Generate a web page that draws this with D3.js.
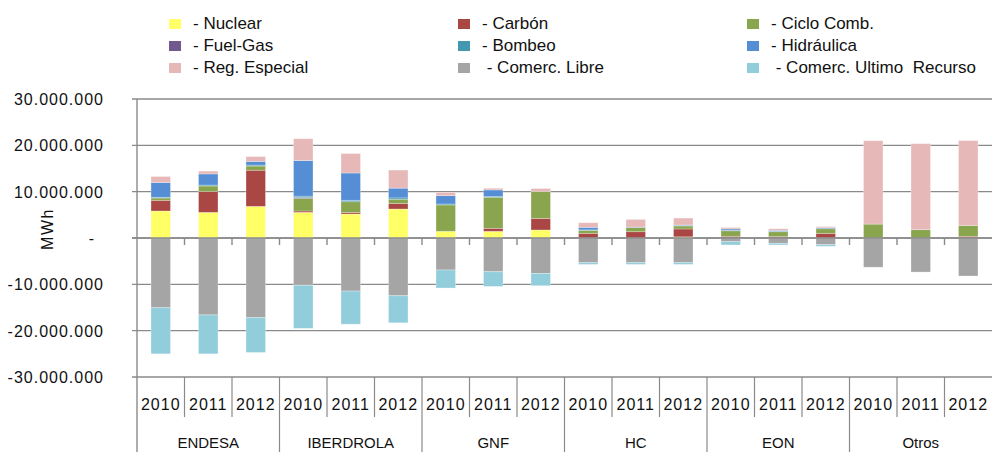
<!DOCTYPE html>
<html lang="es">
<head>
<meta charset="UTF-8">
<title>Energía por comercializadora</title>
<script src="https://d3js.org/d3.v7.min.js"></script>
<style>
  body { margin: 0; background: #fff; }
  svg { display: block; font-family: "Liberation Sans", Arial, sans-serif; }
  text { fill: #111; white-space: pre; }
</style>
</head>
<body>
<svg id="chart" width="992" height="452"></svg>
<script>
// data (MWh)
const companies = ["ENDESA", "IBERDROLA", "GNF", "HC", "EON", "Otros"];
const years = ["2010", "2011", "2012"];
const seriesNames = ["- Nuclear", "- Carbón", "- Ciclo Comb.", "- Fuel-Gas", "- Bombeo", "- Hidráulica",
                     "- Reg. Especial", " - Comerc. Libre", " - Comerc. Ultimo  Recurso"];
const seriesColors = ["#FFFF66", "#AA4643", "#89A54E", "#71588F", "#4198AF", "#558ED5",
                      "#E6B9B8", "#A5A5A5", "#92CDDC"];

const nuclear   = [5830000, 5530000, 6830000, 5530000, 5180000, 6260000, 1440000, 1440000, 1730000, 0, 0, 250000, 0, 0, 0, 0, 0, 0];
const carbon    = [2300000, 4500000, 7800000, 300000, 350000, 1200000, 0, 650000, 2500000, 1000000, 1360000, 1700000, 360000, 300000, 1000000, 0, 0, 360000];
const cicloComb = [500000, 1200000, 900000, 2700000, 2300000, 900000, 5700000, 6700000, 5800000, 650000, 900000, 650000, 1200000, 1060000, 1000000, 3000000, 1800000, 2360000];
const fuelGas   = [0, 0, 0, 200000, 0, 0, 0, 0, 0, 0, 0, 0, 0, 0, 0, 0, 0, 0];
const bombeo    = [150000, 200000, 200000, 300000, 300000, 300000, 200000, 150000, 0, 100000, 0, 100000, 100000, 100000, 0, 0, 0, 0];
const hidraulica= [3200000, 2400000, 800000, 7700000, 5900000, 2100000, 1800000, 1450000, 0, 550000, 100000, 100000, 300000, 200000, 200000, 0, 0, 0];
const regEspecial=[1300000, 600000, 1050000, 4700000, 4200000, 3900000, 700000, 350000, 650000, 1000000, 1650000, 1500000, 300000, 340000, 250000, 18000000, 18570000, 18300000];
const comercLibre=[-15050000, -16600000, -17200000, -10200000, -11450000, -12460000, -6900000, -7280000, -7640000, -5330000, -5330000, -5330000, -800000, -1150000, -1440000, -6300000, -7350000, -8200000];
const comercCUR = [-9950000, -8400000, -7500000, -9300000, -7150000, -5840000, -3900000, -3170000, -2660000, -370000, -370000, -370000, -700000, -350000, -360000, 0, 0, 0];

const yTicks = [30000000, 20000000, 10000000, 0, -10000000, -20000000, -30000000];

const seriesValues = [nuclear, carbon, cicloComb, fuelGas, bombeo, hidraulica, regEspecial, comercLibre, comercCUR];

// build rows
const rows = [];
companies.forEach((c, ci) => {
  years.forEach((yr, yi) => {
    const i = ci * years.length + yi;
    const row = { key: c + "-" + yr, company: c, year: yr };
    seriesNames.forEach((s, si) => { row[s] = seriesValues[si][i]; });
    rows.push(row);
  });
});

const svg = d3.select("#chart");
const plotLeft = 137, plotRight = 992, plotTop = 99, plotBottom = 377;
const axisColor = "#8a8a8a";

const x = d3.scaleBand()
  .domain(rows.map(d => d.key))
  .range([plotLeft, plotRight])
  .paddingInner(0.59)
  .paddingOuter(0.295);
const step = x.step();

const y = d3.scaleLinear().domain([-30000000, 30000000]).range([plotBottom, plotTop]);

const esLocale = d3.formatLocale({ decimal: ",", thousands: ".", grouping: [3], currency: ["", "€"], minus: "-" });
const fmt = esLocale.format(",.0f");

// gridlines
svg.append("g")
  .selectAll("line")
  .data(yTicks)
  .join("line")
  .attr("x1", plotLeft - 5)
  .attr("x2", plotRight)
  .attr("y1", d => y(d))
  .attr("y2", d => y(d))
  .attr("stroke", axisColor)
  .attr("stroke-width", 1.4);

// y labels
svg.append("g")
  .selectAll("text")
  .data(yTicks)
  .join("text")
  .attr("x", d => d === 0 ? 94 : 104)
  .attr("y", d => y(d) + 6)
  .attr("text-anchor", "end")
  .attr("font-size", 16)
  .attr("letter-spacing", d => d === 0 ? 0 : 1)
  .text(d => d === 0 ? "-" : fmt(d));

// axis title
svg.append("text")
  .attr("transform", "translate(53,229) rotate(-90)")
  .attr("text-anchor", "middle")
  .attr("font-size", 16)
  .attr("letter-spacing", 1.5)
  .text("MWh");

// stacked bars
const stack = d3.stack().keys(seriesNames).offset(d3.stackOffsetDiverging);
const stacked = stack(rows);

svg.append("g")
  .selectAll("g")
  .data(stacked)
  .join("g")
  .attr("fill", (d, i) => seriesColors[i])
  .selectAll("rect")
  .data(d => d.filter(p => p[1] !== p[0]))
  .join("rect")
  .attr("x", d => x(d.data.key))
  .attr("width", x.bandwidth())
  .attr("y", d => y(Math.max(d[0], d[1])))
  .attr("height", d => Math.abs(y(d[0]) - y(d[1])))
  .attr("stroke", "#ffffff")
  .attr("stroke-opacity", 0.35)
  .attr("stroke-width", 0.8);

// zero line with ticks
svg.append("line")
  .attr("x1", plotLeft - 5).attr("x2", plotRight)
  .attr("y1", y(0)).attr("y2", y(0))
  .attr("stroke", axisColor).attr("stroke-width", 1.4);
svg.append("g")
  .selectAll("line")
  .data(d3.range(1, rows.length))
  .join("line")
  .attr("x1", i => plotLeft + step * i)
  .attr("x2", i => plotLeft + step * i)
  .attr("y1", y(0))
  .attr("y2", y(0) + 7)
  .attr("stroke", axisColor).attr("stroke-width", 1.4);

// y axis line
svg.append("line")
  .attr("x1", plotLeft).attr("x2", plotLeft)
  .attr("y1", plotTop).attr("y2", 452)
  .attr("stroke", axisColor).attr("stroke-width", 1.4);

// category separators
svg.append("g")
  .selectAll("line")
  .data(d3.range(1, rows.length))
  .join("line")
  .attr("x1", i => plotLeft + step * i)
  .attr("x2", i => plotLeft + step * i)
  .attr("y1", plotBottom)
  .attr("y2", i => i % years.length === 0 ? 452 : 417)
  .attr("stroke", axisColor).attr("stroke-width", 1.2);

// year labels
svg.append("g")
  .selectAll("text")
  .data(rows)
  .join("text")
  .attr("x", d => x(d.key) + x.bandwidth() / 2)
  .attr("y", 410)
  .attr("text-anchor", "middle")
  .attr("font-size", 16)
  .attr("letter-spacing", 1)
  .text(d => d.year);

// company labels
svg.append("g")
  .selectAll("text")
  .data(companies)
  .join("text")
  .attr("x", (d, i) => plotLeft + step * (i * years.length + years.length / 2))
  .attr("y", 448)
  .attr("text-anchor", "middle")
  .attr("font-size", 15)
  .text(d => d);

// legend
const legendCols = [169, 458, 747];
const legend = svg.append("g")
  .selectAll("g")
  .data(seriesNames)
  .join("g")
  .attr("transform", (d, i) => `translate(${legendCols[i % 3]},${19 + Math.floor(i / 3) * 22})`);
legend.append("rect")
  .attr("width", 12).attr("height", 10)
  .attr("fill", (d, i) => seriesColors[i]);
legend.append("text")
  .attr("x", 24)
  .attr("y", 10)
  .attr("font-size", 17)
  .text(d => d);
</script>
</body>
</html>
